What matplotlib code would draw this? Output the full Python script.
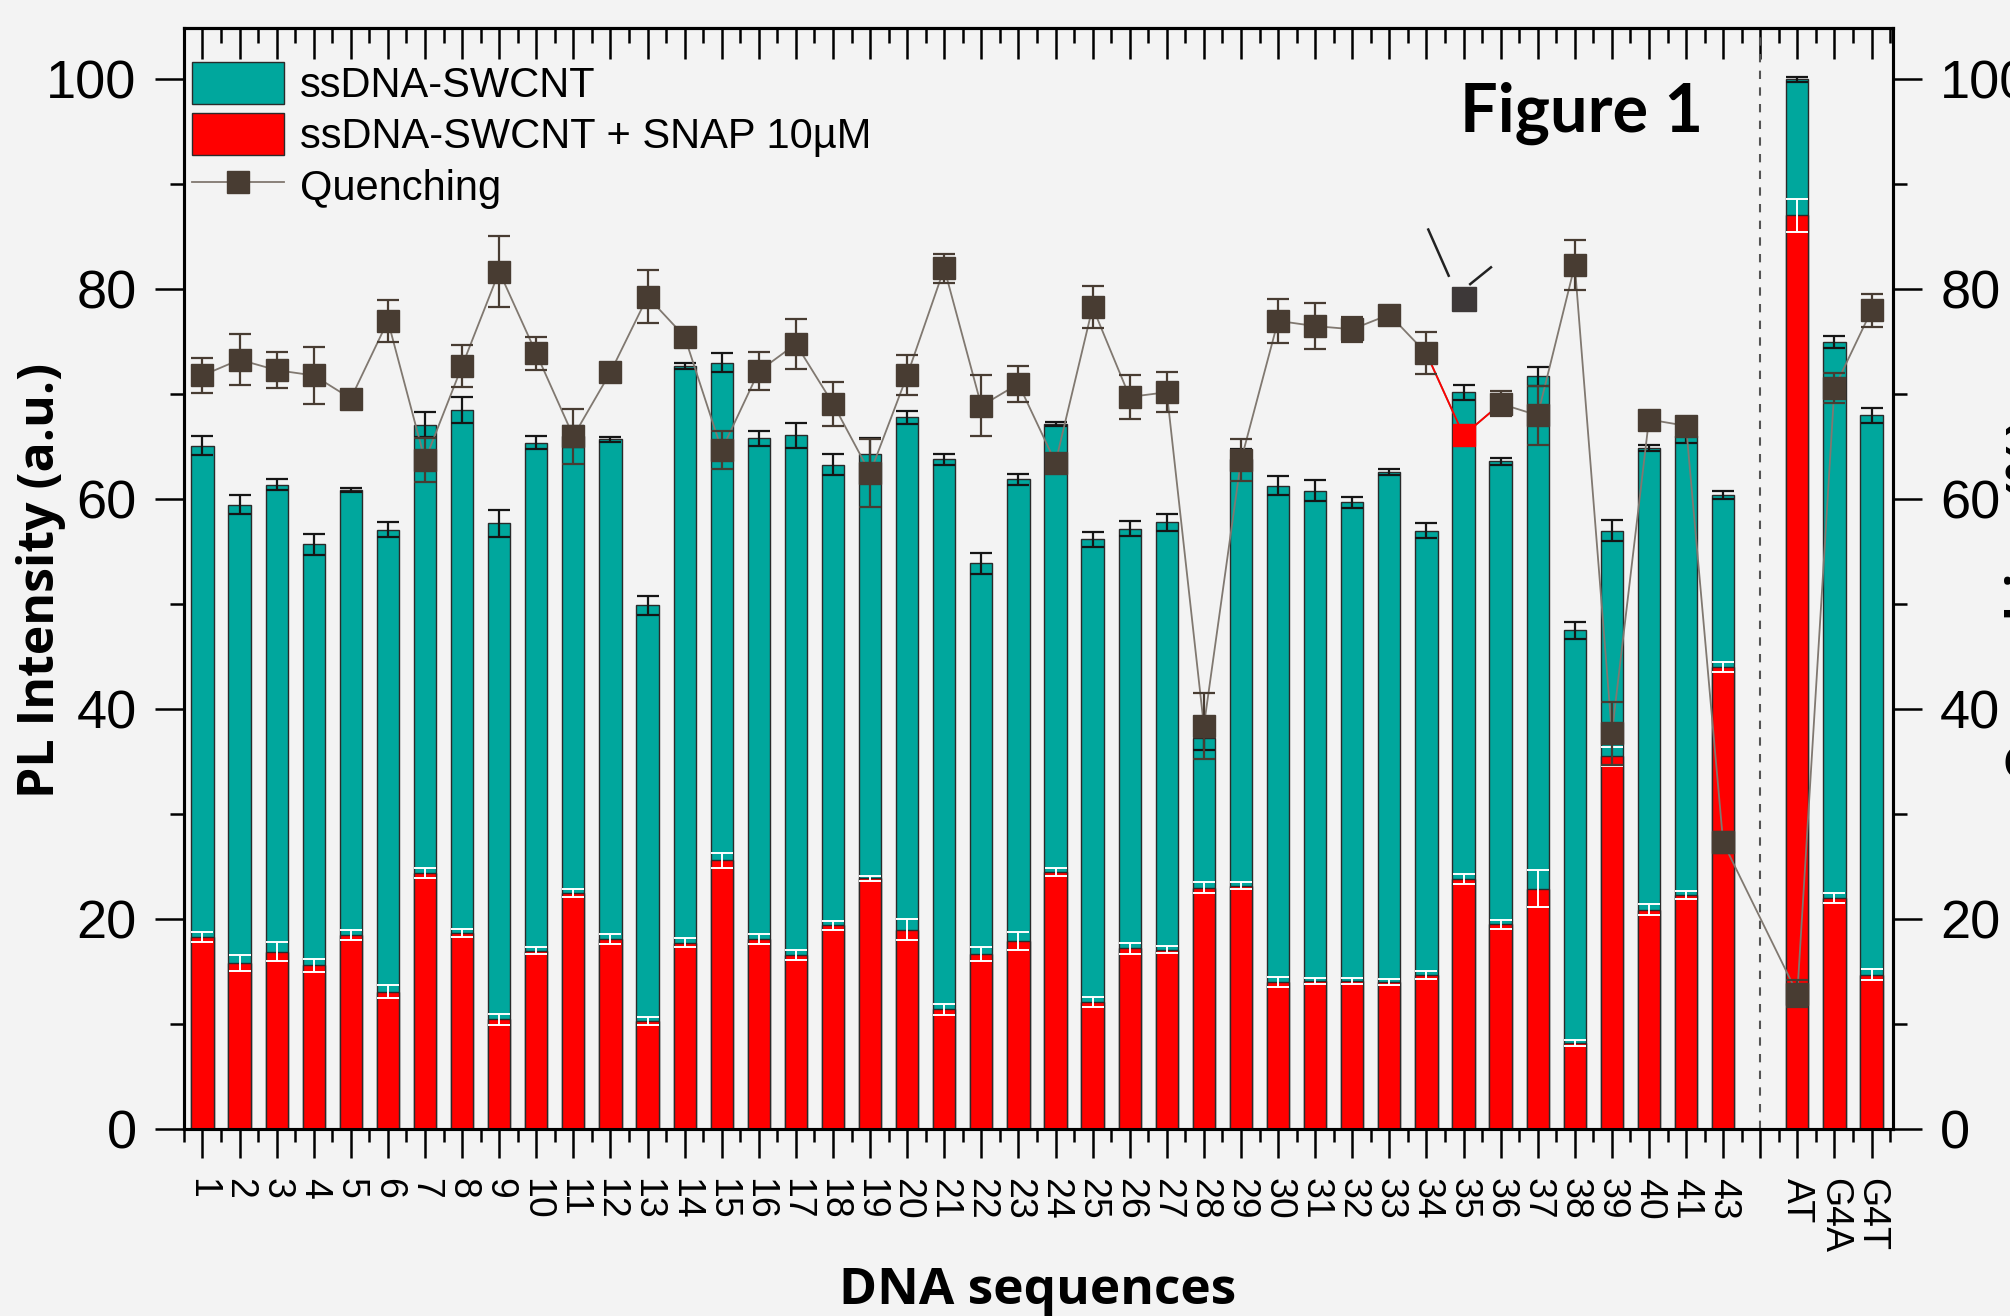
import numpy as np
import matplotlib
matplotlib.use("Agg")
import matplotlib.pyplot as plt
from matplotlib import font_manager
from matplotlib.patches import Patch
from matplotlib.lines import Line2D
from matplotlib.ticker import MultipleLocator

# ---------------- data ----------------
categories = [str(i) for i in range(1, 42)] + ["43", "AT", "G4A", "G4T"]
x_pos = list(range(42)) + [43, 44, 45]

teal = [65.1, 59.5, 61.4, 55.7, 60.9, 57.1, 67.1, 68.5, 57.7, 65.4, 66.0,
        65.7, 49.9, 72.7, 73.0, 65.8, 66.1, 63.3, 64.3, 67.8, 63.8, 53.9,
        61.9, 67.2, 56.2, 57.2, 57.8, 37.3, 63.8, 61.3, 60.8, 59.7, 62.6,
        57.0, 70.2, 63.6, 71.7, 47.5, 57.0, 64.9, 66.0, 60.4,
        100.0, 75.0, 68.0]
teal_err = [0.9, 0.9, 0.5, 1.0, 0.2, 0.7, 1.2, 1.2, 1.3, 0.6, 1.0,
            0.2, 0.9, 0.3, 0.9, 0.7, 1.2, 1.0, 1.5, 0.6, 0.5, 1.0,
            0.5, 0.2, 0.7, 0.7, 0.8, 1.2, 1.0, 0.9, 1.0, 0.5, 0.3,
            0.7, 0.7, 0.3, 0.9, 0.8, 1.0, 0.3, 0.6, 0.4,
            0.2, 0.6, 0.7]

red = [18.3, 15.8, 16.9, 15.6, 18.5, 13.1, 24.4, 18.7, 10.45, 17.0, 22.5,
       18.1, 10.3, 17.75, 25.6, 18.1, 16.6, 19.4, 23.9, 19.0, 11.4, 16.7,
       17.9, 24.5, 12.1, 17.2, 17.1, 23.0, 23.2, 14.0, 14.1, 14.1, 14.0,
       14.7, 23.8, 19.5, 22.9, 8.2, 35.5, 20.9, 22.3, 44.0,
       87.05, 22.0, 14.7]
red_err = [0.5, 0.75, 0.9, 0.6, 0.45, 0.6, 0.5, 0.4, 0.5, 0.35, 0.35,
           0.45, 0.4, 0.45, 0.7, 0.45, 0.5, 0.45, 0.25, 1.0, 0.5, 0.65,
           0.85, 0.4, 0.5, 0.5, 0.3, 0.5, 0.35, 0.5, 0.25, 0.3, 0.3,
           0.4, 0.5, 0.45, 1.75, 0.3, 0.9, 0.5, 0.4, 0.45,
           1.6, 0.5, 0.5]

quench = [71.8, 73.3, 72.3, 71.8, 69.6, 77.0, 63.7, 72.7, 81.7, 73.9, 66.0,
          72.1, 79.3, 75.5, 64.7, 72.2, 74.8, 69.1, 62.5, 71.8, 82.0, 68.9,
          71.0, 63.5, 78.3, 69.75, 70.2, 38.4, 63.7, 77.0, 76.5, 76.2, 77.6,
          73.9, 66.1, 69.1, 68.0, 82.3, 37.7, 67.6, 67.0, 27.3,
          12.9, 70.6, 78.0]
quench_err = [1.7, 2.4, 1.7, 2.7, 0.3, 2.0, 2.1, 2.0, 3.4, 1.6, 2.6,
              0.3, 2.5, 0.3, 1.8, 1.8, 2.4, 2.1, 3.2, 1.9, 1.4, 2.9,
              1.7, 0.5, 2.0, 2.1, 1.9, 3.1, 2.0, 2.1, 2.2, 1.2, 0.3,
              2.0, 0.0, 1.2, 2.8, 2.4, 3.0, 0.3, 0.6, 1.0,
              1.3, 1.4, 1.6]

# highlighted point (sequence 35): drawn in red, with an extra marker above
highlight_idx = 34
highlight_extra_value = 79.1
divider_pos = 42

# ---------------- style ----------------
BG = "#F3F3F3"
TEAL = "#00A79D"
RED = "#FF0000"
EDGE = "#2A2A2A"
MARK = "#483C32"
LINEC = "#807870"

available = {f.name for f in font_manager.fontManager.ttflist}


def pick(*names):
    for n in names:
        if n in available:
            return n
    return "DejaVu Sans"


REG = pick("Liberation Sans", "Arimo", "DejaVu Sans")
NARROW = pick("Liberation Sans Narrow", "Liberation Sans", "DejaVu Sans")
BOLD = pick("Open Sans", "DejaVu Sans")
FIGF = pick("Lato", "Open Sans", "DejaVu Sans")

fig = plt.figure(figsize=(20.1, 13.16), dpi=100, facecolor=BG)
ax = fig.add_axes([0.0915, 0.1421, 0.8503, 0.8366])
ax.set_facecolor(BG)

ax.bar(x_pos, teal, width=0.6, color=TEAL, edgecolor=EDGE, linewidth=1.0, zorder=2)
ax.bar(x_pos, red, width=0.6, color=RED, edgecolor=EDGE, linewidth=1.0, zorder=3)
ax.errorbar(x_pos, teal, yerr=teal_err, fmt="none", ecolor="#151515",
            elinewidth=1.6, capsize=8, capthick=1.6, zorder=4)
ax.errorbar(x_pos, red, yerr=red_err, fmt="none", ecolor="white",
            elinewidth=1.4, capsize=8, capthick=1.4, zorder=4)
ax.axvline(divider_pos, color="#555555", ls=(0, (4, 4)), lw=1.5, zorder=1)

ax.set_xlim(-0.5, 45.58)
ax.set_ylim(0, 104.9)

major_x = sorted(x_pos + [divider_pos])
major_lbl = []
for p in major_x:
    major_lbl.append(categories[x_pos.index(p)] if p in x_pos else "")
ax.set_xticks(major_x)
ax.set_xticklabels(major_lbl)
ax.set_xticks(np.arange(-0.5, 46, 1.0), minor=True)
ax.tick_params(axis="x", which="major", direction="out", length=21, width=1.8,
               pad=14, labelsize=27, labelrotation=-90)
ax.tick_params(axis="x", which="minor", direction="out", length=9, width=1.8)
for t in ax.get_xticklabels():
    t.set_fontfamily(NARROW)

ax.yaxis.set_major_locator(MultipleLocator(20))
ax.yaxis.set_minor_locator(MultipleLocator(10))
ax.tick_params(axis="y", which="major", direction="out", length=21, width=1.8,
               pad=13, labelsize=39)
ax.tick_params(axis="y", which="minor", direction="out", length=10, width=1.8)
for t in ax.get_yticklabels():
    t.set_fontfamily(REG)

for s in ax.spines.values():
    s.set_linewidth(2.2)

# top ticks pointing inward
sec = ax.secondary_xaxis("top")
sec.set_xticks(major_x)
sec.set_xticks(np.arange(-0.5, 46, 1.0), minor=True)
sec.tick_params(axis="x", which="major", direction="in", length=22, width=1.8, labeltop=False)
sec.tick_params(axis="x", which="minor", direction="in", length=11, width=1.8)
sec.spines["top"].set_linewidth(2.2)

# quenching on right axis
ax2 = ax.twinx()
ax2.set_ylim(0, 104.9)
ax2.patch.set_visible(False)
ax2.plot(x_pos, quench, color=LINEC, lw=1.3, zorder=1)
seg = slice(highlight_idx - 1, highlight_idx + 2)
ax2.plot(x_pos[seg], quench[seg], color=RED, lw=1.3, zorder=1.5)
normal = [i for i in range(len(x_pos)) if i != highlight_idx]
ax2.errorbar([x_pos[i] for i in normal], [quench[i] for i in normal],
             yerr=[quench_err[i] for i in normal], fmt="s", ms=16, color=MARK,
             mec=MARK, ecolor=MARK, elinewidth=1.6, capsize=8, capthick=1.6, zorder=3)
ax2.plot([x_pos[highlight_idx]], [quench[highlight_idx]], "s", ms=16, color=RED,
         mec=RED, zorder=3)
hx = x_pos[highlight_idx]
ax2.plot([hx], [highlight_extra_value], "s", ms=17, color="#3D3838", zorder=3)
ax2.plot([hx - 0.95, hx - 0.4], [highlight_extra_value + 6.6, highlight_extra_value + 2.2],
         color="#222222", lw=1.8, zorder=3)
ax2.plot([hx + 0.18, hx + 0.74], [highlight_extra_value + 1.4, highlight_extra_value + 3.0],
         color="#222222", lw=1.8, zorder=3)

ax2.yaxis.set_major_locator(MultipleLocator(20))
ax2.yaxis.set_minor_locator(MultipleLocator(10))
ax2.tick_params(axis="y", which="major", direction="out", length=21, width=1.8,
                pad=13, labelsize=39)
ax2.tick_params(axis="y", which="minor", direction="out", length=10, width=1.8)
for t in ax2.get_yticklabels():
    t.set_fontfamily(REG)
for s in ax2.spines.values():
    s.set_linewidth(2.2)

handles = [Patch(facecolor=TEAL, edgecolor=EDGE, linewidth=1.0),
           Patch(facecolor=RED, edgecolor=EDGE, linewidth=1.0),
           Line2D([], [], color=LINEC, lw=1.3, marker="s", ms=16, mfc=MARK, mec=MARK)]
leg = ax2.legend(handles, ["ssDNA-SWCNT", "ssDNA-SWCNT + SNAP 10\u00b5M", "Quenching"],
                 loc="upper left", bbox_to_anchor=(0.0047, 0.969), frameon=False,
                 borderpad=0, borderaxespad=0, handlelength=2.2, handleheight=1.15,
                 handletextpad=0.4, labelspacing=0.18,
                 prop={"family": REG, "size": 30})

fig.text(1582 / 2010, 1 - 132 / 1316, "Figure 1", ha="center", va="baseline",
         fontsize=48, fontweight="bold", family=FIGF)
fig.text(1038 / 2010, 1 - 1291 / 1316, "DNA sequences", ha="center", va="center",
         fontsize=37, fontweight="bold", family=BOLD)
fig.text(41 / 2010, 1 - 580 / 1316, "PL Intensity (a.u.)", ha="center", va="center",
         rotation=90, fontsize=36, fontweight="bold", family=BOLD)
fig.text(2005 / 2010, 1 - 600 / 1316, "Quenching (%)", ha="left", va="center",
         rotation=90, fontsize=36, fontweight="bold", family=BOLD)

fig.savefig("out.png", dpi=100, facecolor=BG)
